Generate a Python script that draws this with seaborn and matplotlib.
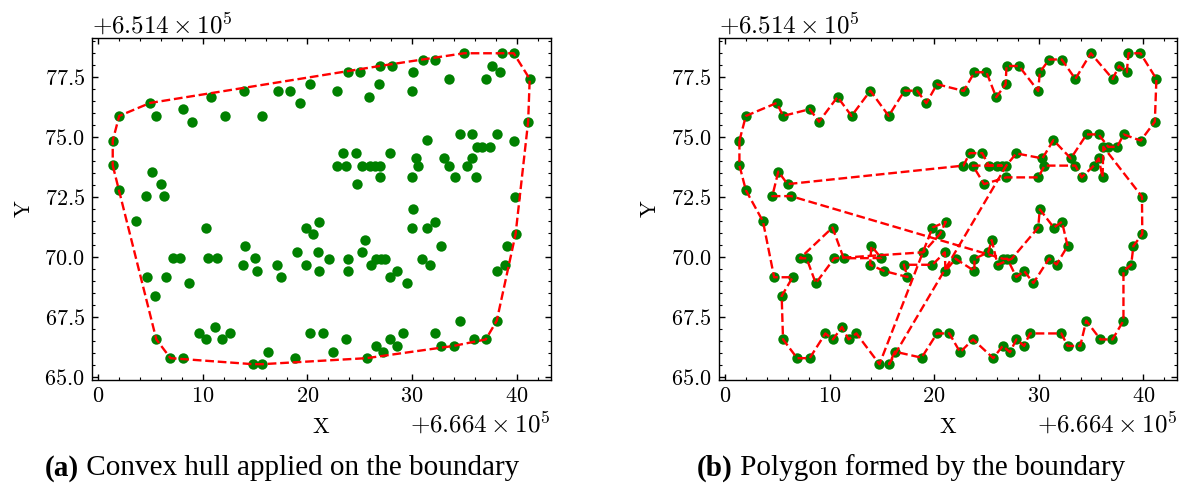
import numpy as np
import pandas as pd
import matplotlib
matplotlib.use("Agg")
import matplotlib.pyplot as plt
from matplotlib.ticker import MultipleLocator
import seaborn as sns

# Offsets of the coordinate system (shown as axis offset text)
X_OFFSET = 666400.0
Y_OFFSET = 651400.0

# Boundary points (relative to offsets), listed in the polygon order of panel (b)
x_rel = [1.38, 2.0, 4.95, 5.55, 8.1, 8.99, 10.76, 12.1, 13.9, 15.65, 17.17, 18.37, 19.25, 20.27,
         22.83, 23.85, 25.0, 25.93, 26.83, 26.92, 28.1, 29.95, 30.1, 31.0, 32.2, 33.5, 34.98,
         37.07, 37.68, 38.42, 38.58, 39.72, 41.25, 41.1, 39.75, 38.12, 37.5, 36.65,
         35.72, 34.58, 33.07, 31.4, 30.35, 27.85, 26.9,
         15.69, 16.25, 18.8, 20.27, 21.45, 22.48, 23.72, 25.65, 26.55, 27.25, 27.86, 28.6, 29.16,
         32.16, 32.76, 33.97, 34.54, 35.9, 37.05, 38.1, 38.1, 38.84, 39.05, 39.9, 39.87,
         36.18, 36.1, 35.73, 35.27, 34.1, 33.5, 30.55, 29.96, 26.9, 24.77, 23.7,
         26.45, 26.0, 25.22, 24.6, 23.4, 22.8,
         5.98, 5.1, 4.52, 6.3,
         26.6, 27.0, 27.85, 28.6, 29.49, 30.99, 31.7, 32.76, 32.22, 31.44, 30.1, 29.95, 27.42,
         26.07, 25.5, 25.18, 23.85, 23.85, 22.05, 21.08, 21.02, 19.84, 17.1, 17.45, 15.22, 13.87,
         14.0, 14.94, 11.35, 10.28, 7.17, 7.8, 8.68, 10.45, 18.97, 20.55, 21.12, 19.84,
         14.77, 12.56, 11.82, 11.19, 10.32, 9.6, 8.1, 6.9, 5.55, 5.42, 6.47, 4.7, 3.63, 2.0, 1.38]
y_rel = [74.86, 75.89, 76.43, 75.89, 76.17, 75.65, 76.68, 75.89, 76.94, 75.89, 76.94, 76.94, 76.42, 77.21,
         76.93, 77.71, 77.71, 76.67, 77.2, 77.97, 77.97, 76.93, 77.71, 78.24, 78.24, 77.43, 78.5,
         77.43, 77.97, 77.71, 78.5, 78.5, 77.43, 75.65, 74.86, 75.12, 74.6, 74.6,
         75.12, 75.12, 74.12, 74.88, 74.12, 74.33, 73.82,
         65.55, 66.07, 65.82, 66.83, 66.83, 66.05, 66.58, 65.8, 66.31, 66.05, 66.58, 66.31, 66.83,
         66.83, 66.31, 66.31, 67.36, 66.58, 66.58, 67.36, 69.43, 69.69, 70.47, 70.97, 72.53,
         74.6, 73.33, 74.12, 73.82, 73.33, 73.82, 73.82, 73.33, 73.33, 73.05, 73.82,
         73.82, 73.82, 73.82, 74.34, 74.34, 73.82,
         73.05, 73.57, 72.55, 72.55,
         69.94, 69.94, 69.18, 69.43, 68.93, 69.95, 69.7, 70.47, 71.48, 71.24, 72.0, 71.24, 69.94,
         69.69, 70.72, 70.21, 69.94, 69.43, 69.94, 69.43, 70.21, 69.69, 69.69, 69.18, 69.43, 69.69,
         70.47, 69.97, 69.96, 71.24, 69.96, 69.96, 68.92, 69.96, 70.21, 70.97, 71.48, 71.24,
         65.55, 66.83, 66.58, 67.1, 66.58, 66.83, 65.8, 65.8, 66.58, 68.39, 69.17, 69.17, 71.5, 72.79, 73.83]

panel_captions = ["(a)", "(b)"]
caption_texts = [" Convex hull applied on the boundary", " Polygon formed by the boundary"]
x_label = "X"
y_label = "Y"

pts = pd.DataFrame({"x": np.array(x_rel) + X_OFFSET, "y": np.array(y_rel) + Y_OFFSET})


def convex_hull(df):
    p = sorted(set(zip(df["x"], df["y"])))

    def cross(o, a, b):
        return (a[0] - o[0]) * (b[1] - o[1]) - (a[1] - o[1]) * (b[0] - o[0])

    lower, upper = [], []
    for q in p:
        while len(lower) >= 2 and cross(lower[-2], lower[-1], q) <= 0:
            lower.pop()
        lower.append(q)
    for q in reversed(p):
        while len(upper) >= 2 and cross(upper[-2], upper[-1], q) <= 0:
            upper.pop()
        upper.append(q)
    h = lower[:-1] + upper[:-1]
    h.append(h[0])
    return pd.DataFrame(h, columns=["x", "y"])


hull = convex_hull(pts)
poly = pd.concat([pts, pts.iloc[[0]]], ignore_index=True)

sns.set_style("ticks")
plt.rcParams.update({
    "font.family": "serif",
    "font.serif": ["cmr10"],
    "mathtext.fontset": "cm",
    "axes.formatter.use_mathtext": True,
    "axes.unicode_minus": False,
    "font.size": 16,
    "axes.labelsize": 16,
    "xtick.labelsize": 16,
    "ytick.labelsize": 16,
    "axes.edgecolor": "black",
    "axes.labelcolor": "black",
    "text.color": "black",
    "xtick.color": "black",
    "ytick.color": "black",
    "axes.linewidth": 1.0,
    "xtick.direction": "in",
    "ytick.direction": "in",
    "xtick.top": True,
    "ytick.right": True,
    "xtick.major.size": 4.5,
    "ytick.major.size": 4.5,
    "xtick.minor.size": 2.3,
    "ytick.minor.size": 2.3,
    "xtick.major.width": 1.0,
    "ytick.major.width": 1.0,
    "xtick.minor.width": 0.8,
    "ytick.minor.width": 0.8,
    "xtick.major.pad": 5,
    "ytick.major.pad": 5,
})

fig = plt.figure(figsize=(11.84, 4.86), dpi=100)
ax_a = fig.add_axes([0.0776, 0.2187, 0.3874, 0.7037])
ax_b = fig.add_axes([0.6069, 0.2187, 0.3874, 0.7037])

for ax, line_df in ((ax_a, hull), (ax_b, poly)):
    sns.scatterplot(data=pts, x="x", y="y", ax=ax, color="green", s=56,
                    linewidth=0, zorder=2)
    sns.lineplot(data=line_df, x="x", y="y", ax=ax, sort=False, estimator=None,
                 color="red", linestyle="--", linewidth=1.7, zorder=3)
    ax.xaxis.set_major_locator(MultipleLocator(10))
    ax.xaxis.set_minor_locator(MultipleLocator(2))
    ax.yaxis.set_major_locator(MultipleLocator(2.5))
    ax.yaxis.set_minor_locator(MultipleLocator(0.5))
    ax.set_xlabel(x_label, labelpad=8)
    ax.set_ylabel(y_label, labelpad=8)
    ax.tick_params(which="both", top=True, right=True)
    ax.xaxis.get_offset_text().set_fontsize(18)
    ax.yaxis.get_offset_text().set_fontsize(18)

fig.canvas.draw()
renderer = fig.canvas.get_renderer()
cap_font = ["Liberation Serif", "DejaVu Serif"]
for xpos, bold, rest in ((45 / 1184, panel_captions[0], caption_texts[0]),
                         (697 / 1184, panel_captions[1], caption_texts[1])):
    t1 = fig.text(xpos, 0.022, bold, family=cap_font, fontsize=21,
                  fontweight="bold", va="baseline", ha="left")
    bb = t1.get_window_extent(renderer=renderer)
    x2 = fig.transFigure.inverted().transform((bb.x1, 0))[0]
    fig.text(x2, 0.022, rest, family=cap_font, fontsize=21,
             va="baseline", ha="left")

fig.savefig("out.png", dpi=100)
